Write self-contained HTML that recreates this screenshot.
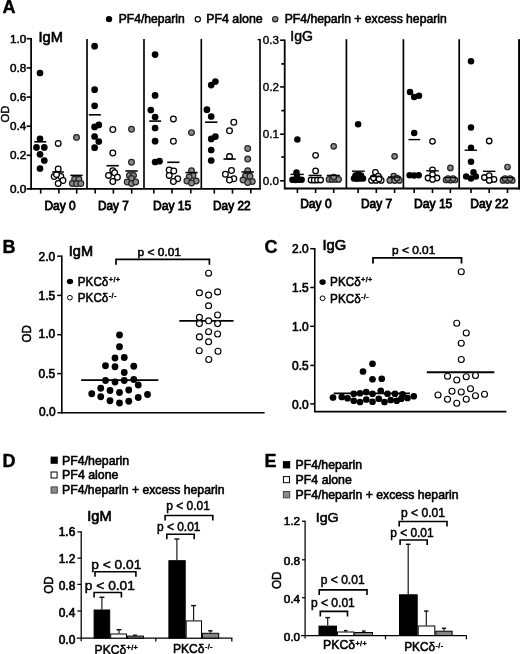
<!DOCTYPE html>
<html lang="en"><head><meta charset="utf-8"><title>Figure</title>
<style>
html,body{margin:0;padding:0;background:#fff;}
body{width:520px;height:654px;overflow:hidden;font-family:"Liberation Sans", Arial, Helvetica, sans-serif;}
svg{display:block;}
svg text{font-family:"Liberation Sans", Arial, Helvetica, sans-serif;fill:#000;}
</style></head><body>
<svg width="520" height="654" viewBox="0 0 520 654">
<defs><filter id="soft" x="0" y="0" width="520" height="654" filterUnits="userSpaceOnUse"><feGaussianBlur stdDeviation="0.38"/></filter></defs>
<rect width="520" height="654" fill="#fff"/>
<g filter="url(#soft)">
<text x="2.6" y="13.0" font-size="18" font-weight="bold" stroke="#000" stroke-width="0.39">A</text>
<circle cx="109" cy="19.1" r="3.2" fill="#000"/>
<text x="118.8" y="23.4" font-size="12" textLength="65.8" lengthAdjust="spacingAndGlyphs" stroke="#000" stroke-width="0.59">PF4/heparin</text>
<circle cx="197.8" cy="19.2" r="2.6" fill="#fff" stroke="#000" stroke-width="1.15"/>
<text x="206.2" y="23.4" font-size="12" textLength="56.5" lengthAdjust="spacingAndGlyphs" stroke="#000" stroke-width="0.59">PF4 alone</text>
<circle cx="275.2" cy="19.2" r="2.7" fill="#8a8a8a" stroke="#222" stroke-width="1.1"/>
<text x="284.7" y="23.4" font-size="12" textLength="162" lengthAdjust="spacingAndGlyphs" stroke="#000" stroke-width="0.59">PF4/heparin + excess heparin</text>
<line x1="31.1" y1="37.9" x2="31.1" y2="189.8" stroke="#000" stroke-width="1.75"/>
<line x1="26.5" y1="188.9" x2="260.9" y2="188.9" stroke="#000" stroke-width="1.85"/>
<line x1="87.0" y1="38.9" x2="87.0" y2="188.9" stroke="#000" stroke-width="1.65"/>
<line x1="144.0" y1="38.9" x2="144.0" y2="188.9" stroke="#000" stroke-width="1.65"/>
<line x1="201.3" y1="38.9" x2="201.3" y2="188.9" stroke="#000" stroke-width="1.65"/>
<line x1="260.0" y1="38.9" x2="260.0" y2="188.9" stroke="#000" stroke-width="1.65"/>
<line x1="26.6" y1="38.7" x2="31.1" y2="38.7" stroke="#000" stroke-width="1.6"/>
<text x="26.3" y="42.800000000000004" font-size="11.7" text-anchor="end" textLength="16.3" lengthAdjust="spacingAndGlyphs" stroke="#000" stroke-width="0.52">1.0</text>
<line x1="26.6" y1="67.9" x2="31.1" y2="67.9" stroke="#000" stroke-width="1.6"/>
<text x="26.3" y="72.0" font-size="11.7" text-anchor="end" textLength="16.3" lengthAdjust="spacingAndGlyphs" stroke="#000" stroke-width="0.52">0.8</text>
<line x1="26.6" y1="97.1" x2="31.1" y2="97.1" stroke="#000" stroke-width="1.6"/>
<text x="26.3" y="101.19999999999999" font-size="11.7" text-anchor="end" textLength="16.3" lengthAdjust="spacingAndGlyphs" stroke="#000" stroke-width="0.52">0.6</text>
<line x1="26.6" y1="126.2" x2="31.1" y2="126.2" stroke="#000" stroke-width="1.6"/>
<text x="26.3" y="130.3" font-size="11.7" text-anchor="end" textLength="16.3" lengthAdjust="spacingAndGlyphs" stroke="#000" stroke-width="0.52">0.4</text>
<line x1="26.6" y1="155.3" x2="31.1" y2="155.3" stroke="#000" stroke-width="1.6"/>
<text x="26.3" y="159.4" font-size="11.7" text-anchor="end" textLength="16.3" lengthAdjust="spacingAndGlyphs" stroke="#000" stroke-width="0.52">0.2</text>
<text x="26.3" y="193.3" font-size="11.7" text-anchor="end" textLength="16.4" lengthAdjust="spacingAndGlyphs" stroke="#000" stroke-width="0.52">0.0</text>
<line x1="257.6" y1="39.6" x2="260" y2="39.6" stroke="#000" stroke-width="1.4"/>
<line x1="40.7" y1="188.9" x2="40.7" y2="193.6" stroke="#000" stroke-width="1.6"/>
<line x1="58.9" y1="188.9" x2="58.9" y2="193.6" stroke="#000" stroke-width="1.6"/>
<line x1="76.7" y1="188.9" x2="76.7" y2="193.6" stroke="#000" stroke-width="1.6"/>
<line x1="95.2" y1="188.9" x2="95.2" y2="193.6" stroke="#000" stroke-width="1.6"/>
<line x1="113.4" y1="188.9" x2="113.4" y2="193.6" stroke="#000" stroke-width="1.6"/>
<line x1="131.7" y1="188.9" x2="131.7" y2="193.6" stroke="#000" stroke-width="1.6"/>
<line x1="153.8" y1="188.9" x2="153.8" y2="193.6" stroke="#000" stroke-width="1.6"/>
<line x1="172" y1="188.9" x2="172" y2="193.6" stroke="#000" stroke-width="1.6"/>
<line x1="190.8" y1="188.9" x2="190.8" y2="193.6" stroke="#000" stroke-width="1.6"/>
<line x1="214.3" y1="188.9" x2="214.3" y2="193.6" stroke="#000" stroke-width="1.6"/>
<line x1="232.5" y1="188.9" x2="232.5" y2="193.6" stroke="#000" stroke-width="1.6"/>
<line x1="250.8" y1="188.9" x2="250.8" y2="193.6" stroke="#000" stroke-width="1.6"/>
<text x="60.1" y="209.8" font-size="12" text-anchor="middle" textLength="31.2" lengthAdjust="spacingAndGlyphs" stroke="#000" stroke-width="0.78">Day 0</text>
<text x="113.4" y="209.8" font-size="12" text-anchor="middle" textLength="30.8" lengthAdjust="spacingAndGlyphs" stroke="#000" stroke-width="0.78">Day 7</text>
<text x="172.1" y="209.8" font-size="12" text-anchor="middle" textLength="38.2" lengthAdjust="spacingAndGlyphs" stroke="#000" stroke-width="0.78">Day 15</text>
<text x="231.8" y="209.8" font-size="12" text-anchor="middle" textLength="37.6" lengthAdjust="spacingAndGlyphs" stroke="#000" stroke-width="0.78">Day 22</text>
<text x="38.5" y="42.1" font-size="14" textLength="24.4" lengthAdjust="spacingAndGlyphs" stroke="#000" stroke-width="0.65">IgM</text>
<text transform="translate(9,114) rotate(-90)" font-size="11.6" text-anchor="middle" textLength="16.8" lengthAdjust="spacingAndGlyphs" stroke="#000" stroke-width="0.45">OD</text>
<circle cx="40" cy="73" r="3.35" fill="#000"/>
<circle cx="40" cy="138.8" r="3.35" fill="#000"/>
<circle cx="36.5" cy="147.4" r="3.35" fill="#000"/>
<circle cx="44.3" cy="147.4" r="3.35" fill="#000"/>
<circle cx="40" cy="154.3" r="3.35" fill="#000"/>
<circle cx="44.3" cy="160.5" r="3.35" fill="#000"/>
<circle cx="40" cy="168.5" r="3.35" fill="#000"/>
<line x1="34.3" y1="141.8" x2="46.2" y2="141.8" stroke="#000" stroke-width="1.6"/>
<circle cx="58.2" cy="143.4" r="2.85" fill="#fff" stroke="#000" stroke-width="1.28"/>
<circle cx="58.2" cy="168.9" r="2.85" fill="#fff" stroke="#000" stroke-width="1.28"/>
<circle cx="54.2" cy="176.5" r="2.85" fill="#fff" stroke="#000" stroke-width="1.28"/>
<circle cx="60.8" cy="176.5" r="2.85" fill="#fff" stroke="#000" stroke-width="1.28"/>
<circle cx="56.5" cy="174.5" r="2.85" fill="#fff" stroke="#000" stroke-width="1.28"/>
<circle cx="63" cy="180.5" r="2.85" fill="#fff" stroke="#000" stroke-width="1.28"/>
<circle cx="58.2" cy="183.5" r="2.85" fill="#fff" stroke="#000" stroke-width="1.28"/>
<line x1="52.3" y1="172" x2="63.8" y2="172" stroke="#000" stroke-width="1.6"/>
<circle cx="76.5" cy="137.4" r="2.85" fill="#8a8a8a" stroke="#222" stroke-width="1.2"/>
<circle cx="74.6" cy="179.2" r="2.85" fill="#8a8a8a" stroke="#222" stroke-width="1.2"/>
<circle cx="78.9" cy="179.2" r="2.85" fill="#8a8a8a" stroke="#222" stroke-width="1.2"/>
<circle cx="72.3" cy="183.5" r="2.85" fill="#8a8a8a" stroke="#222" stroke-width="1.2"/>
<circle cx="76.5" cy="183.8" r="2.85" fill="#8a8a8a" stroke="#222" stroke-width="1.2"/>
<circle cx="80.8" cy="183.5" r="2.85" fill="#8a8a8a" stroke="#222" stroke-width="1.2"/>
<line x1="70.3" y1="175.4" x2="82.6" y2="175.4" stroke="#000" stroke-width="1.6"/>
<circle cx="94.6" cy="46.2" r="3.35" fill="#000"/>
<circle cx="94.6" cy="89.7" r="3.35" fill="#000"/>
<circle cx="94.6" cy="105.8" r="3.35" fill="#000"/>
<circle cx="98.8" cy="124.9" r="3.35" fill="#000"/>
<circle cx="94.6" cy="126.9" r="3.35" fill="#000"/>
<circle cx="94.6" cy="136.5" r="3.35" fill="#000"/>
<circle cx="98.8" cy="141.5" r="3.35" fill="#000"/>
<circle cx="94.6" cy="147.7" r="3.35" fill="#000"/>
<line x1="88.8" y1="114.8" x2="100.8" y2="114.8" stroke="#000" stroke-width="1.6"/>
<circle cx="112.8" cy="129.5" r="2.85" fill="#fff" stroke="#000" stroke-width="1.28"/>
<circle cx="112.8" cy="153" r="2.85" fill="#fff" stroke="#000" stroke-width="1.28"/>
<circle cx="112.8" cy="170.8" r="2.85" fill="#fff" stroke="#000" stroke-width="1.28"/>
<circle cx="114.6" cy="172.8" r="2.85" fill="#fff" stroke="#000" stroke-width="1.28"/>
<circle cx="108.5" cy="175.4" r="2.85" fill="#fff" stroke="#000" stroke-width="1.28"/>
<circle cx="117.4" cy="177.2" r="2.85" fill="#fff" stroke="#000" stroke-width="1.28"/>
<circle cx="112.8" cy="181.5" r="2.85" fill="#fff" stroke="#000" stroke-width="1.28"/>
<line x1="106.5" y1="165.7" x2="118.8" y2="165.7" stroke="#000" stroke-width="1.6"/>
<circle cx="131.5" cy="129.2" r="2.85" fill="#8a8a8a" stroke="#222" stroke-width="1.2"/>
<circle cx="131.5" cy="162.3" r="2.85" fill="#8a8a8a" stroke="#222" stroke-width="1.2"/>
<circle cx="129.5" cy="175.4" r="2.85" fill="#8a8a8a" stroke="#222" stroke-width="1.2"/>
<circle cx="133.5" cy="175.4" r="2.85" fill="#8a8a8a" stroke="#222" stroke-width="1.2"/>
<circle cx="131.5" cy="178.5" r="2.85" fill="#8a8a8a" stroke="#222" stroke-width="1.2"/>
<circle cx="127.2" cy="182" r="2.85" fill="#8a8a8a" stroke="#222" stroke-width="1.2"/>
<circle cx="131.5" cy="183.5" r="2.85" fill="#8a8a8a" stroke="#222" stroke-width="1.2"/>
<circle cx="135.7" cy="182" r="2.85" fill="#8a8a8a" stroke="#222" stroke-width="1.2"/>
<line x1="125.4" y1="171" x2="137.7" y2="171" stroke="#000" stroke-width="1.6"/>
<circle cx="155.1" cy="54.6" r="3.35" fill="#000"/>
<circle cx="155.1" cy="95.4" r="3.35" fill="#000"/>
<circle cx="150.8" cy="110" r="3.35" fill="#000"/>
<circle cx="155.1" cy="117" r="3.35" fill="#000"/>
<circle cx="155.1" cy="128" r="3.35" fill="#000"/>
<circle cx="155.1" cy="141.2" r="3.35" fill="#000"/>
<circle cx="155.1" cy="162" r="3.35" fill="#000"/>
<circle cx="159.5" cy="161.2" r="3.35" fill="#000"/>
<line x1="149.2" y1="121.1" x2="161.1" y2="121.1" stroke="#000" stroke-width="1.6"/>
<circle cx="173.4" cy="118.9" r="2.85" fill="#fff" stroke="#000" stroke-width="1.28"/>
<circle cx="173.4" cy="141.2" r="2.85" fill="#fff" stroke="#000" stroke-width="1.28"/>
<circle cx="169.2" cy="170" r="2.85" fill="#fff" stroke="#000" stroke-width="1.28"/>
<circle cx="173.8" cy="171" r="2.85" fill="#fff" stroke="#000" stroke-width="1.28"/>
<circle cx="169.2" cy="175.4" r="2.85" fill="#fff" stroke="#000" stroke-width="1.28"/>
<circle cx="177.7" cy="178.8" r="2.85" fill="#fff" stroke="#000" stroke-width="1.28"/>
<circle cx="173.4" cy="181.5" r="2.85" fill="#fff" stroke="#000" stroke-width="1.28"/>
<line x1="167.2" y1="162.3" x2="179.5" y2="162.3" stroke="#000" stroke-width="1.6"/>
<circle cx="191.5" cy="132.6" r="2.85" fill="#8a8a8a" stroke="#222" stroke-width="1.2"/>
<circle cx="191.5" cy="170.8" r="2.85" fill="#8a8a8a" stroke="#222" stroke-width="1.2"/>
<circle cx="193" cy="175.4" r="2.85" fill="#8a8a8a" stroke="#222" stroke-width="1.2"/>
<circle cx="189.2" cy="177" r="2.85" fill="#8a8a8a" stroke="#222" stroke-width="1.2"/>
<circle cx="186.9" cy="181" r="2.85" fill="#8a8a8a" stroke="#222" stroke-width="1.2"/>
<circle cx="196.2" cy="181" r="2.85" fill="#8a8a8a" stroke="#222" stroke-width="1.2"/>
<circle cx="191.5" cy="183" r="2.85" fill="#8a8a8a" stroke="#222" stroke-width="1.2"/>
<line x1="185.4" y1="172.6" x2="197.7" y2="172.6" stroke="#000" stroke-width="1.6"/>
<circle cx="215.4" cy="81.5" r="3.35" fill="#000"/>
<circle cx="211.2" cy="85.1" r="3.35" fill="#000"/>
<circle cx="206.9" cy="109.7" r="3.35" fill="#000"/>
<circle cx="211.2" cy="116.5" r="3.35" fill="#000"/>
<circle cx="215.4" cy="136.6" r="3.35" fill="#000"/>
<circle cx="211.2" cy="138.9" r="3.35" fill="#000"/>
<circle cx="211.2" cy="150" r="3.35" fill="#000"/>
<circle cx="211.2" cy="160.5" r="3.35" fill="#000"/>
<line x1="205.1" y1="122.2" x2="217.4" y2="122.2" stroke="#000" stroke-width="1.6"/>
<circle cx="233.8" cy="122.3" r="2.85" fill="#fff" stroke="#000" stroke-width="1.28"/>
<circle cx="229.5" cy="130.8" r="2.85" fill="#fff" stroke="#000" stroke-width="1.28"/>
<circle cx="229.5" cy="156.6" r="2.85" fill="#fff" stroke="#000" stroke-width="1.28"/>
<circle cx="231.5" cy="170.5" r="2.85" fill="#fff" stroke="#000" stroke-width="1.28"/>
<circle cx="225.4" cy="174.3" r="2.85" fill="#fff" stroke="#000" stroke-width="1.28"/>
<circle cx="233.8" cy="178.8" r="2.85" fill="#fff" stroke="#000" stroke-width="1.28"/>
<circle cx="229.5" cy="180" r="2.85" fill="#fff" stroke="#000" stroke-width="1.28"/>
<line x1="223.5" y1="159" x2="235.7" y2="159" stroke="#000" stroke-width="1.6"/>
<circle cx="247.7" cy="148.5" r="2.85" fill="#8a8a8a" stroke="#222" stroke-width="1.2"/>
<circle cx="247.7" cy="159" r="2.85" fill="#8a8a8a" stroke="#222" stroke-width="1.2"/>
<circle cx="247.7" cy="170.8" r="2.85" fill="#8a8a8a" stroke="#222" stroke-width="1.2"/>
<circle cx="245.4" cy="176.2" r="2.85" fill="#8a8a8a" stroke="#222" stroke-width="1.2"/>
<circle cx="250" cy="176.2" r="2.85" fill="#8a8a8a" stroke="#222" stroke-width="1.2"/>
<circle cx="243" cy="180" r="2.85" fill="#8a8a8a" stroke="#222" stroke-width="1.2"/>
<circle cx="252.3" cy="181.5" r="2.85" fill="#8a8a8a" stroke="#222" stroke-width="1.2"/>
<circle cx="247.7" cy="182.6" r="2.85" fill="#8a8a8a" stroke="#222" stroke-width="1.2"/>
<line x1="241.5" y1="172" x2="253.8" y2="172" stroke="#000" stroke-width="1.6"/>
<line x1="284.7" y1="39.5" x2="284.7" y2="189.4" stroke="#000" stroke-width="1.8"/>
<line x1="284.7" y1="188.5" x2="520" y2="188.5" stroke="#000" stroke-width="1.85"/>
<line x1="346.4" y1="39.2" x2="346.4" y2="188.5" stroke="#000" stroke-width="1.7"/>
<line x1="403.4" y1="39.2" x2="403.4" y2="188.5" stroke="#000" stroke-width="1.7"/>
<line x1="459.2" y1="39.2" x2="459.2" y2="188.5" stroke="#000" stroke-width="1.7"/>
<line x1="519.3" y1="39.2" x2="519.3" y2="189.4" stroke="#000" stroke-width="2.4"/>
<line x1="280.09999999999997" y1="40.2" x2="284.7" y2="40.2" stroke="#000" stroke-width="1.6"/>
<text x="279" y="44.35" font-size="11.6" text-anchor="end" textLength="16.2" lengthAdjust="spacingAndGlyphs" stroke="#000" stroke-width="0.39">0.3</text>
<line x1="280.09999999999997" y1="86.9" x2="284.7" y2="86.9" stroke="#000" stroke-width="1.6"/>
<text x="279" y="91.05000000000001" font-size="11.6" text-anchor="end" textLength="16.2" lengthAdjust="spacingAndGlyphs" stroke="#000" stroke-width="0.39">0.2</text>
<line x1="280.09999999999997" y1="134.2" x2="284.7" y2="134.2" stroke="#000" stroke-width="1.6"/>
<text x="279" y="138.35" font-size="11.6" text-anchor="end" textLength="16.2" lengthAdjust="spacingAndGlyphs" stroke="#000" stroke-width="0.39">0.1</text>
<line x1="280.09999999999997" y1="180.8" x2="284.7" y2="180.8" stroke="#000" stroke-width="1.6"/>
<text x="279" y="184.95000000000002" font-size="11.6" text-anchor="end" textLength="16.2" lengthAdjust="spacingAndGlyphs" stroke="#000" stroke-width="0.39">0.0</text>
<line x1="281.3" y1="63.9" x2="284.7" y2="63.9" stroke="#000" stroke-width="1.7"/>
<line x1="281.3" y1="110.6" x2="284.7" y2="110.6" stroke="#000" stroke-width="1.7"/>
<line x1="281.3" y1="157" x2="284.7" y2="157" stroke="#000" stroke-width="1.7"/>
<line x1="297.4" y1="188.5" x2="297.4" y2="193" stroke="#000" stroke-width="1.6"/>
<line x1="315.6" y1="188.5" x2="315.6" y2="193" stroke="#000" stroke-width="1.6"/>
<line x1="333.7" y1="188.5" x2="333.7" y2="193" stroke="#000" stroke-width="1.6"/>
<line x1="358.1" y1="188.5" x2="358.1" y2="193" stroke="#000" stroke-width="1.6"/>
<line x1="376.3" y1="188.5" x2="376.3" y2="193" stroke="#000" stroke-width="1.6"/>
<line x1="394.6" y1="188.5" x2="394.6" y2="193" stroke="#000" stroke-width="1.6"/>
<line x1="414.2" y1="188.5" x2="414.2" y2="193" stroke="#000" stroke-width="1.6"/>
<line x1="432.5" y1="188.5" x2="432.5" y2="193" stroke="#000" stroke-width="1.6"/>
<line x1="450.4" y1="188.5" x2="450.4" y2="193" stroke="#000" stroke-width="1.6"/>
<line x1="471" y1="188.5" x2="471" y2="193" stroke="#000" stroke-width="1.6"/>
<line x1="489.2" y1="188.5" x2="489.2" y2="193" stroke="#000" stroke-width="1.6"/>
<line x1="507.5" y1="188.5" x2="507.5" y2="193" stroke="#000" stroke-width="1.6"/>
<text x="315.9" y="208.0" font-size="12.1" text-anchor="middle" textLength="31.4" lengthAdjust="spacingAndGlyphs" stroke="#000" stroke-width="0.78">Day 0</text>
<text x="376.6" y="208.0" font-size="12.1" text-anchor="middle" textLength="31.2" lengthAdjust="spacingAndGlyphs" stroke="#000" stroke-width="0.78">Day 7</text>
<text x="433.2" y="208.0" font-size="12.1" text-anchor="middle" textLength="38.3" lengthAdjust="spacingAndGlyphs" stroke="#000" stroke-width="0.78">Day 15</text>
<text x="489.4" y="208.0" font-size="12.1" text-anchor="middle" textLength="38.2" lengthAdjust="spacingAndGlyphs" stroke="#000" stroke-width="0.78">Day 22</text>
<text x="290.3" y="40.9" font-size="14" textLength="22.7" lengthAdjust="spacingAndGlyphs" stroke="#000" stroke-width="0.45">IgG</text>
<circle cx="297.4" cy="139.4" r="3.25" fill="#000"/>
<circle cx="296.5" cy="172.6" r="3.25" fill="#000"/>
<circle cx="292.4" cy="179.7" r="3.25" fill="#000"/>
<circle cx="295.5" cy="179.9" r="3.25" fill="#000"/>
<circle cx="298.6" cy="179.7" r="3.25" fill="#000"/>
<circle cx="301.6" cy="179.7" r="3.25" fill="#000"/>
<circle cx="297" cy="176.5" r="3.25" fill="#000"/>
<line x1="290.5" y1="174.4" x2="303.8" y2="174.4" stroke="#000" stroke-width="1.4"/>
<circle cx="315.6" cy="155.3" r="2.75" fill="#fff" stroke="#000" stroke-width="1.28"/>
<circle cx="315.6" cy="170.9" r="2.75" fill="#fff" stroke="#000" stroke-width="1.28"/>
<circle cx="311" cy="180" r="2.75" fill="#fff" stroke="#000" stroke-width="1.28"/>
<circle cx="314.2" cy="180.2" r="2.75" fill="#fff" stroke="#000" stroke-width="1.28"/>
<circle cx="317.4" cy="180" r="2.75" fill="#fff" stroke="#000" stroke-width="1.28"/>
<circle cx="320.6" cy="180" r="2.75" fill="#fff" stroke="#000" stroke-width="1.28"/>
<line x1="308.6" y1="175.4" x2="321.6" y2="175.4" stroke="#000" stroke-width="1.4"/>
<circle cx="333.7" cy="146.3" r="2.75" fill="#8a8a8a" stroke="#222" stroke-width="1.2"/>
<circle cx="329" cy="179.4" r="2.75" fill="#8a8a8a" stroke="#222" stroke-width="1.2"/>
<circle cx="332.2" cy="179.6" r="2.75" fill="#8a8a8a" stroke="#222" stroke-width="1.2"/>
<circle cx="335.4" cy="179.4" r="2.75" fill="#8a8a8a" stroke="#222" stroke-width="1.2"/>
<circle cx="338.6" cy="179.4" r="2.75" fill="#8a8a8a" stroke="#222" stroke-width="1.2"/>
<circle cx="333.7" cy="177" r="2.75" fill="#8a8a8a" stroke="#222" stroke-width="1.2"/>
<line x1="326.8" y1="175.4" x2="339.8" y2="175.4" stroke="#000" stroke-width="1.4"/>
<circle cx="358.1" cy="124.3" r="3.25" fill="#000"/>
<circle cx="358.1" cy="174.6" r="3.25" fill="#000"/>
<circle cx="354" cy="178.5" r="3.25" fill="#000"/>
<circle cx="357" cy="178.8" r="3.25" fill="#000"/>
<circle cx="360" cy="178.5" r="3.25" fill="#000"/>
<circle cx="363" cy="178.5" r="3.25" fill="#000"/>
<circle cx="361" cy="175.5" r="3.25" fill="#000"/>
<circle cx="355.5" cy="175.5" r="3.25" fill="#000"/>
<line x1="351.9" y1="171.2" x2="364.8" y2="171.2" stroke="#000" stroke-width="1.4"/>
<circle cx="375.4" cy="172.3" r="2.75" fill="#fff" stroke="#000" stroke-width="1.28"/>
<circle cx="378.3" cy="176.2" r="2.75" fill="#fff" stroke="#000" stroke-width="1.28"/>
<circle cx="371.5" cy="180.4" r="2.75" fill="#fff" stroke="#000" stroke-width="1.28"/>
<circle cx="376" cy="180.4" r="2.75" fill="#fff" stroke="#000" stroke-width="1.28"/>
<circle cx="381.2" cy="180.4" r="2.75" fill="#fff" stroke="#000" stroke-width="1.28"/>
<circle cx="373.5" cy="178" r="2.75" fill="#fff" stroke="#000" stroke-width="1.28"/>
<circle cx="379" cy="179" r="2.75" fill="#fff" stroke="#000" stroke-width="1.28"/>
<line x1="370" y1="176.5" x2="382.5" y2="176.5" stroke="#000" stroke-width="1.4"/>
<circle cx="394.6" cy="156.3" r="2.75" fill="#8a8a8a" stroke="#222" stroke-width="1.2"/>
<circle cx="393.7" cy="176.2" r="2.75" fill="#8a8a8a" stroke="#222" stroke-width="1.2"/>
<circle cx="389.8" cy="180.4" r="2.75" fill="#8a8a8a" stroke="#222" stroke-width="1.2"/>
<circle cx="394.6" cy="180.6" r="2.75" fill="#8a8a8a" stroke="#222" stroke-width="1.2"/>
<circle cx="399.4" cy="180.4" r="2.75" fill="#8a8a8a" stroke="#222" stroke-width="1.2"/>
<circle cx="397" cy="178" r="2.75" fill="#8a8a8a" stroke="#222" stroke-width="1.2"/>
<line x1="388" y1="177" x2="401" y2="177" stroke="#000" stroke-width="1.4"/>
<circle cx="410" cy="91.9" r="3.25" fill="#000"/>
<circle cx="414.2" cy="96.9" r="3.25" fill="#000"/>
<circle cx="419" cy="95.8" r="3.25" fill="#000"/>
<circle cx="414.2" cy="132.9" r="3.25" fill="#000"/>
<circle cx="409.6" cy="175.2" r="3.25" fill="#000"/>
<circle cx="414.2" cy="175.4" r="3.25" fill="#000"/>
<circle cx="418.7" cy="175.2" r="3.25" fill="#000"/>
<line x1="408.5" y1="139.6" x2="420.2" y2="139.6" stroke="#000" stroke-width="1.4"/>
<circle cx="432.5" cy="141.3" r="2.75" fill="#fff" stroke="#000" stroke-width="1.28"/>
<circle cx="432.5" cy="169.8" r="2.75" fill="#fff" stroke="#000" stroke-width="1.28"/>
<circle cx="432.5" cy="174.6" r="2.75" fill="#fff" stroke="#000" stroke-width="1.28"/>
<circle cx="428" cy="178" r="2.75" fill="#fff" stroke="#000" stroke-width="1.28"/>
<circle cx="437" cy="178" r="2.75" fill="#fff" stroke="#000" stroke-width="1.28"/>
<circle cx="432.5" cy="179.4" r="2.75" fill="#fff" stroke="#000" stroke-width="1.28"/>
<line x1="426.2" y1="170.8" x2="438.8" y2="170.8" stroke="#000" stroke-width="1.4"/>
<circle cx="450.4" cy="167.9" r="2.75" fill="#8a8a8a" stroke="#222" stroke-width="1.2"/>
<circle cx="446" cy="180" r="2.75" fill="#8a8a8a" stroke="#222" stroke-width="1.2"/>
<circle cx="450.4" cy="180.2" r="2.75" fill="#8a8a8a" stroke="#222" stroke-width="1.2"/>
<circle cx="455" cy="180" r="2.75" fill="#8a8a8a" stroke="#222" stroke-width="1.2"/>
<circle cx="448" cy="178.5" r="2.75" fill="#8a8a8a" stroke="#222" stroke-width="1.2"/>
<circle cx="453" cy="178.5" r="2.75" fill="#8a8a8a" stroke="#222" stroke-width="1.2"/>
<line x1="444" y1="177.5" x2="456.5" y2="177.5" stroke="#000" stroke-width="1.4"/>
<circle cx="471" cy="61.2" r="3.25" fill="#000"/>
<circle cx="471" cy="127.5" r="3.25" fill="#000"/>
<circle cx="471" cy="147.7" r="3.25" fill="#000"/>
<circle cx="471" cy="161.7" r="3.25" fill="#000"/>
<circle cx="473.5" cy="172.3" r="3.25" fill="#000"/>
<circle cx="466.2" cy="176.5" r="3.25" fill="#000"/>
<circle cx="475.8" cy="176.5" r="3.25" fill="#000"/>
<circle cx="471" cy="178.5" r="3.25" fill="#000"/>
<line x1="464.6" y1="150.2" x2="477.1" y2="150.2" stroke="#000" stroke-width="1.4"/>
<circle cx="489.2" cy="141" r="2.75" fill="#fff" stroke="#000" stroke-width="1.28"/>
<circle cx="484.4" cy="177.5" r="2.75" fill="#fff" stroke="#000" stroke-width="1.28"/>
<circle cx="489.2" cy="175.6" r="2.75" fill="#fff" stroke="#000" stroke-width="1.28"/>
<circle cx="494" cy="179.4" r="2.75" fill="#fff" stroke="#000" stroke-width="1.28"/>
<circle cx="489.2" cy="180.4" r="2.75" fill="#fff" stroke="#000" stroke-width="1.28"/>
<line x1="483" y1="171.3" x2="495.4" y2="171.3" stroke="#000" stroke-width="1.4"/>
<circle cx="507.5" cy="167.0" r="2.75" fill="#8a8a8a" stroke="#222" stroke-width="1.2"/>
<circle cx="503" cy="180.4" r="2.75" fill="#8a8a8a" stroke="#222" stroke-width="1.2"/>
<circle cx="507.5" cy="180.6" r="2.75" fill="#8a8a8a" stroke="#222" stroke-width="1.2"/>
<circle cx="512.3" cy="180.4" r="2.75" fill="#8a8a8a" stroke="#222" stroke-width="1.2"/>
<circle cx="505" cy="178.5" r="2.75" fill="#8a8a8a" stroke="#222" stroke-width="1.2"/>
<circle cx="510" cy="178.5" r="2.75" fill="#8a8a8a" stroke="#222" stroke-width="1.2"/>
<line x1="500.8" y1="177.5" x2="514.2" y2="177.5" stroke="#000" stroke-width="1.4"/>
<text x="2.45" y="252.5" font-size="18" font-weight="bold" stroke="#000" stroke-width="0.39">B</text>
<line x1="61.8" y1="255.4" x2="61.8" y2="413.5" stroke="#000" stroke-width="1.6"/>
<line x1="57.4" y1="412.8" x2="264.6" y2="412.8" stroke="#000" stroke-width="1.6"/>
<line x1="57.199999999999996" y1="256.15" x2="61.8" y2="256.15" stroke="#000" stroke-width="1.5"/>
<text x="55.2" y="261.0" font-size="11.9" text-anchor="end" textLength="16.6" lengthAdjust="spacingAndGlyphs" stroke="#000" stroke-width="0.65">2.0</text>
<line x1="57.199999999999996" y1="295.4" x2="61.8" y2="295.4" stroke="#000" stroke-width="1.5"/>
<text x="55.2" y="299.7" font-size="11.9" text-anchor="end" textLength="16.6" lengthAdjust="spacingAndGlyphs" stroke="#000" stroke-width="0.65">1.5</text>
<line x1="57.199999999999996" y1="334.7" x2="61.8" y2="334.7" stroke="#000" stroke-width="1.5"/>
<text x="55.2" y="338.2" font-size="11.9" text-anchor="end" textLength="16.6" lengthAdjust="spacingAndGlyphs" stroke="#000" stroke-width="0.65">1.0</text>
<line x1="57.199999999999996" y1="373.6" x2="61.8" y2="373.6" stroke="#000" stroke-width="1.5"/>
<text x="55.2" y="378.1" font-size="11.9" text-anchor="end" textLength="16.6" lengthAdjust="spacingAndGlyphs" stroke="#000" stroke-width="0.65">0.5</text>
<text x="55.6" y="416.4" font-size="11.9" text-anchor="end" textLength="16.6" lengthAdjust="spacingAndGlyphs" stroke="#000" stroke-width="0.65">0.0</text>
<text x="68.8" y="256.1" font-size="14" textLength="24.2" lengthAdjust="spacingAndGlyphs" stroke="#000" stroke-width="0.65">IgM</text>
<text transform="translate(31.1,333.8) rotate(-90)" font-size="12" text-anchor="middle" textLength="17.3" lengthAdjust="spacingAndGlyphs" stroke="#000" stroke-width="0.5">OD</text>
<ellipse cx="70" cy="281.6" rx="3.15" ry="2.75" fill="#000"/>
<text x="77.8" y="285.6" font-size="12" textLength="30.6" lengthAdjust="spacingAndGlyphs" stroke="#000" stroke-width="0.55">PKCδ</text>
<text x="108.8" y="281.7" font-size="7.3" font-weight="bold" letter-spacing="0.35" stroke="#000" stroke-width="0.3">+/+</text>
<ellipse cx="69.9" cy="297.7" rx="2.4" ry="2.3" fill="#fff" stroke="#000" stroke-width="1.0"/>
<text x="77.8" y="301.7" font-size="12" textLength="30.6" lengthAdjust="spacingAndGlyphs" stroke="#000" stroke-width="0.55">PKCδ</text>
<text x="108.8" y="297.8" font-size="7.3" font-weight="bold" letter-spacing="0.35" stroke="#000" stroke-width="0.3">-/-</text>
<polyline points="116,264.7 116,259.4 209.4,259.4 209.4,264.7" fill="none" stroke="#000" stroke-width="1.7"/>
<text x="159.2" y="255.9" font-size="11.8" text-anchor="middle" textLength="43.4" lengthAdjust="spacingAndGlyphs" stroke="#000" stroke-width="0.55">p &lt; 0.01</text>
<circle cx="119.5" cy="335" r="3.4" fill="#000"/>
<circle cx="119.5" cy="346.75" r="3.4" fill="#000"/>
<circle cx="115" cy="358" r="3.4" fill="#000"/>
<circle cx="124.25" cy="357.5" r="3.4" fill="#000"/>
<circle cx="105.5" cy="365.75" r="3.4" fill="#000"/>
<circle cx="115" cy="366.75" r="3.4" fill="#000"/>
<circle cx="133.75" cy="366.25" r="3.4" fill="#000"/>
<circle cx="124.25" cy="372.5" r="3.4" fill="#000"/>
<circle cx="105.5" cy="380.5" r="3.4" fill="#000"/>
<circle cx="115" cy="382" r="3.4" fill="#000"/>
<circle cx="124.25" cy="380.5" r="3.4" fill="#000"/>
<circle cx="133.75" cy="379.5" r="3.4" fill="#000"/>
<circle cx="138.25" cy="385" r="3.4" fill="#000"/>
<circle cx="100.75" cy="388.25" r="3.4" fill="#000"/>
<circle cx="110" cy="390.5" r="3.4" fill="#000"/>
<circle cx="119.5" cy="392.5" r="3.4" fill="#000"/>
<circle cx="128.75" cy="390" r="3.4" fill="#000"/>
<circle cx="91.75" cy="393.75" r="3.4" fill="#000"/>
<circle cx="147.5" cy="394.5" r="3.4" fill="#000"/>
<circle cx="100.75" cy="396.75" r="3.4" fill="#000"/>
<circle cx="138.25" cy="397.5" r="3.4" fill="#000"/>
<circle cx="110" cy="400.75" r="3.4" fill="#000"/>
<circle cx="119.5" cy="403" r="3.4" fill="#000"/>
<circle cx="128.75" cy="401.25" r="3.4" fill="#000"/>
<line x1="81.2" y1="380.1" x2="158.3" y2="380.1" stroke="#000" stroke-width="1.8"/>
<line x1="179.3" y1="320.9" x2="233.6" y2="320.9" stroke="#000" stroke-width="1.8"/>
<circle cx="208.6" cy="273.2" r="2.98" fill="#fff" stroke="#000" stroke-width="1.15"/>
<circle cx="199.4" cy="292.8" r="2.98" fill="#fff" stroke="#000" stroke-width="1.15"/>
<circle cx="208.6" cy="295.1" r="2.98" fill="#fff" stroke="#000" stroke-width="1.15"/>
<circle cx="217.6" cy="291.9" r="2.98" fill="#fff" stroke="#000" stroke-width="1.15"/>
<circle cx="208.6" cy="305.8" r="2.98" fill="#fff" stroke="#000" stroke-width="1.15"/>
<circle cx="199.4" cy="317.3" r="2.98" fill="#fff" stroke="#000" stroke-width="1.15"/>
<circle cx="217.6" cy="315" r="2.98" fill="#fff" stroke="#000" stroke-width="1.15"/>
<circle cx="199.4" cy="323.6" r="2.98" fill="#fff" stroke="#000" stroke-width="1.15"/>
<circle cx="208.6" cy="320.8" r="2.98" fill="#fff" stroke="#000" stroke-width="1.15"/>
<circle cx="217.6" cy="323.6" r="2.98" fill="#fff" stroke="#000" stroke-width="1.15"/>
<circle cx="208.6" cy="331.7" r="2.98" fill="#fff" stroke="#000" stroke-width="1.15"/>
<circle cx="217.6" cy="334" r="2.98" fill="#fff" stroke="#000" stroke-width="1.15"/>
<circle cx="199.4" cy="336.9" r="2.98" fill="#fff" stroke="#000" stroke-width="1.15"/>
<circle cx="208.6" cy="341.8" r="2.98" fill="#fff" stroke="#000" stroke-width="1.15"/>
<circle cx="199.25" cy="350.75" r="2.98" fill="#fff" stroke="#000" stroke-width="1.15"/>
<circle cx="218" cy="351.25" r="2.98" fill="#fff" stroke="#000" stroke-width="1.15"/>
<circle cx="208.75" cy="359.5" r="2.98" fill="#fff" stroke="#000" stroke-width="1.15"/>
<text x="264.4" y="252.8" font-size="18" font-weight="bold" stroke="#000" stroke-width="0.39">C</text>
<line x1="314.75" y1="248.0" x2="314.75" y2="412.3" stroke="#000" stroke-width="1.6"/>
<line x1="314.75" y1="411.6" x2="506.4" y2="411.6" stroke="#000" stroke-width="1.6"/>
<line x1="310.25" y1="248.7" x2="314.75" y2="248.7" stroke="#000" stroke-width="1.5"/>
<text x="308.6" y="253.45000000000002" font-size="11.9" text-anchor="end" textLength="16.6" lengthAdjust="spacingAndGlyphs" stroke="#000" stroke-width="0.65">2.0</text>
<line x1="310.25" y1="287.5" x2="314.75" y2="287.5" stroke="#000" stroke-width="1.5"/>
<text x="308.6" y="292.0" font-size="11.9" text-anchor="end" textLength="16.6" lengthAdjust="spacingAndGlyphs" stroke="#000" stroke-width="0.65">1.5</text>
<line x1="310.25" y1="326.3" x2="314.75" y2="326.3" stroke="#000" stroke-width="1.5"/>
<text x="308.6" y="330.6" font-size="11.9" text-anchor="end" textLength="16.6" lengthAdjust="spacingAndGlyphs" stroke="#000" stroke-width="0.65">1.0</text>
<line x1="310.25" y1="365.4" x2="314.75" y2="365.4" stroke="#000" stroke-width="1.5"/>
<text x="308.6" y="369.85" font-size="11.9" text-anchor="end" textLength="16.6" lengthAdjust="spacingAndGlyphs" stroke="#000" stroke-width="0.65">0.5</text>
<line x1="310.25" y1="403.9" x2="314.75" y2="403.9" stroke="#000" stroke-width="1.5"/>
<text x="308.6" y="408.5" font-size="11.9" text-anchor="end" textLength="16.6" lengthAdjust="spacingAndGlyphs" stroke="#000" stroke-width="0.65">0.0</text>
<text x="322.5" y="250.4" font-size="14" textLength="23.8" lengthAdjust="spacingAndGlyphs" stroke="#000" stroke-width="0.65">IgG</text>
<ellipse cx="322.6" cy="282.1" rx="3.2" ry="2.8" fill="#000"/>
<text x="330.1" y="286.2" font-size="12" textLength="30.6" lengthAdjust="spacingAndGlyphs" stroke="#000" stroke-width="0.55">PKCδ</text>
<text x="361.1" y="282.3" font-size="7.3" font-weight="bold" letter-spacing="0.35" stroke="#000" stroke-width="0.3">+/+</text>
<ellipse cx="322.6" cy="298.3" rx="2.45" ry="2.35" fill="#fff" stroke="#000" stroke-width="1.0"/>
<text x="330.1" y="302.5" font-size="12" textLength="30.6" lengthAdjust="spacingAndGlyphs" stroke="#000" stroke-width="0.55">PKCδ</text>
<text x="361.1" y="298.6" font-size="7.3" font-weight="bold" letter-spacing="0.35" stroke="#000" stroke-width="0.3">-/-</text>
<polyline points="373.0,263.6 373.0,257.8 461.5,257.8 461.5,263.6" fill="none" stroke="#000" stroke-width="1.8"/>
<text x="413.7" y="253.9" font-size="11.8" text-anchor="middle" textLength="43.2" lengthAdjust="spacingAndGlyphs" stroke="#000" stroke-width="0.55">p &lt; 0.01</text>
<line x1="333.7" y1="393.3" x2="410" y2="393.3" stroke="#000" stroke-width="1.7"/>
<circle cx="372.5" cy="363.75" r="3.35" fill="#000"/>
<circle cx="363" cy="371.5" r="3.35" fill="#000"/>
<circle cx="372.5" cy="379.25" r="3.35" fill="#000"/>
<circle cx="381.75" cy="378.75" r="3.35" fill="#000"/>
<circle cx="380.75" cy="390.75" r="3.35" fill="#000"/>
<circle cx="366.25" cy="392" r="3.35" fill="#000"/>
<circle cx="360" cy="393.25" r="3.35" fill="#000"/>
<circle cx="353.75" cy="393.75" r="3.35" fill="#000"/>
<circle cx="372.5" cy="393.75" r="3.35" fill="#000"/>
<circle cx="387.5" cy="393.75" r="3.35" fill="#000"/>
<circle cx="395" cy="393.75" r="3.35" fill="#000"/>
<circle cx="402.5" cy="394.25" r="3.35" fill="#000"/>
<circle cx="333" cy="397.5" r="3.35" fill="#000"/>
<circle cx="341.75" cy="397" r="3.35" fill="#000"/>
<circle cx="347.5" cy="398.25" r="3.35" fill="#000"/>
<circle cx="353.75" cy="400.75" r="3.35" fill="#000"/>
<circle cx="360" cy="402" r="3.35" fill="#000"/>
<circle cx="366.25" cy="399.5" r="3.35" fill="#000"/>
<circle cx="372.5" cy="401.75" r="3.35" fill="#000"/>
<circle cx="378.75" cy="398.75" r="3.35" fill="#000"/>
<circle cx="384.5" cy="402" r="3.35" fill="#000"/>
<circle cx="390.75" cy="400" r="3.35" fill="#000"/>
<circle cx="396.75" cy="400.75" r="3.35" fill="#000"/>
<circle cx="401.25" cy="398.75" r="3.35" fill="#000"/>
<circle cx="407.5" cy="398" r="3.35" fill="#000"/>
<circle cx="413.75" cy="396.25" r="3.35" fill="#000"/>
<line x1="426.8" y1="372.2" x2="494.3" y2="372.2" stroke="#000" stroke-width="1.9"/>
<circle cx="461.25" cy="271.75" r="2.98" fill="#fff" stroke="#000" stroke-width="1.15"/>
<circle cx="456.75" cy="323.25" r="2.98" fill="#fff" stroke="#000" stroke-width="1.15"/>
<circle cx="466.25" cy="333" r="2.98" fill="#fff" stroke="#000" stroke-width="1.15"/>
<circle cx="461.25" cy="343.25" r="2.98" fill="#fff" stroke="#000" stroke-width="1.15"/>
<circle cx="461.25" cy="359.5" r="2.98" fill="#fff" stroke="#000" stroke-width="1.15"/>
<circle cx="447.5" cy="376.25" r="2.98" fill="#fff" stroke="#000" stroke-width="1.15"/>
<circle cx="466.25" cy="376.75" r="2.98" fill="#fff" stroke="#000" stroke-width="1.15"/>
<circle cx="475.5" cy="375.5" r="2.98" fill="#fff" stroke="#000" stroke-width="1.15"/>
<circle cx="456.75" cy="380" r="2.98" fill="#fff" stroke="#000" stroke-width="1.15"/>
<circle cx="470.5" cy="388.75" r="2.98" fill="#fff" stroke="#000" stroke-width="1.15"/>
<circle cx="452" cy="391.25" r="2.98" fill="#fff" stroke="#000" stroke-width="1.15"/>
<circle cx="461.25" cy="392" r="2.98" fill="#fff" stroke="#000" stroke-width="1.15"/>
<circle cx="438" cy="395" r="2.98" fill="#fff" stroke="#000" stroke-width="1.15"/>
<circle cx="484.5" cy="394.25" r="2.98" fill="#fff" stroke="#000" stroke-width="1.15"/>
<circle cx="475.5" cy="395.75" r="2.98" fill="#fff" stroke="#000" stroke-width="1.15"/>
<circle cx="447.5" cy="399.25" r="2.98" fill="#fff" stroke="#000" stroke-width="1.15"/>
<circle cx="466.25" cy="399.25" r="2.98" fill="#fff" stroke="#000" stroke-width="1.15"/>
<circle cx="456.75" cy="403.25" r="2.98" fill="#fff" stroke="#000" stroke-width="1.15"/>
<text x="2.45" y="466.9" font-size="18" font-weight="bold" stroke="#000" stroke-width="0.39">D</text>
<rect x="50.6" y="456.6" width="7.2" height="7.2" fill="#000"/>
<text x="62.1" y="464.7" font-size="12.2" textLength="67.1" lengthAdjust="spacingAndGlyphs" stroke="#000" stroke-width="0.59">PF4/heparin</text>
<rect x="51.1" y="472.0" width="6.0" height="6.0" fill="#fff" stroke="#000" stroke-width="1"/>
<text x="62.1" y="479.4" font-size="12.2" textLength="56.4" lengthAdjust="spacingAndGlyphs" stroke="#000" stroke-width="0.59">PF4 alone</text>
<rect x="51.1" y="486.9" width="6.2" height="6.2" fill="#8c8c8c" stroke="#444" stroke-width="1"/>
<text x="62.1" y="494.3" font-size="12.2" textLength="162.4" lengthAdjust="spacingAndGlyphs" stroke="#000" stroke-width="0.59">PF4/heparin + excess heparin</text>
<text x="87.3" y="520.7" font-size="14" textLength="24.3" lengthAdjust="spacingAndGlyphs" stroke="#000" stroke-width="0.65">IgM</text>
<line x1="81.2" y1="531.3" x2="81.2" y2="641.3" stroke="#000" stroke-width="1.25"/>
<line x1="76.7" y1="638.1" x2="232.3" y2="638.1" stroke="#000" stroke-width="1.25"/>
<line x1="77.4" y1="531.9" x2="81.2" y2="531.9" stroke="#000" stroke-width="1.25"/>
<line x1="77.4" y1="558.1" x2="81.2" y2="558.1" stroke="#000" stroke-width="1.25"/>
<line x1="77.4" y1="584.4" x2="81.2" y2="584.4" stroke="#000" stroke-width="1.25"/>
<line x1="77.4" y1="611" x2="81.2" y2="611" stroke="#000" stroke-width="1.25"/>
<text x="75.3" y="536.15" font-size="11.9" text-anchor="end" textLength="16.6" lengthAdjust="spacingAndGlyphs" stroke="#000" stroke-width="0.65">1.6</text>
<text x="75.3" y="563.05" font-size="11.9" text-anchor="end" textLength="16.6" lengthAdjust="spacingAndGlyphs" stroke="#000" stroke-width="0.65">1.2</text>
<text x="75.3" y="589.65" font-size="11.9" text-anchor="end" textLength="16.6" lengthAdjust="spacingAndGlyphs" stroke="#000" stroke-width="0.65">0.8</text>
<text x="75.3" y="616.65" font-size="11.9" text-anchor="end" textLength="16.6" lengthAdjust="spacingAndGlyphs" stroke="#000" stroke-width="0.65">0.4</text>
<text x="75.3" y="643.55" font-size="11.9" text-anchor="end" textLength="16.6" lengthAdjust="spacingAndGlyphs" stroke="#000" stroke-width="0.65">0.0</text>
<line x1="155.8" y1="638.1" x2="155.8" y2="641.4" stroke="#000" stroke-width="1.25"/>
<line x1="231.8" y1="638.1" x2="231.8" y2="641.4" stroke="#000" stroke-width="1.25"/>
<text transform="translate(53,585) rotate(-90)" font-size="12" text-anchor="middle" textLength="17.3" lengthAdjust="spacingAndGlyphs" stroke="#000" stroke-width="0.5">OD</text>
<line x1="101.9" y1="597" x2="101.9" y2="609.5" stroke="#111" stroke-width="1.15"/>
<line x1="99.4" y1="597.3" x2="104.4" y2="597.3" stroke="#111" stroke-width="1.4"/>
<rect x="94.10" y="610.00" width="15.60" height="28.10" fill="#000" stroke="#000" stroke-width="1"/>
<line x1="119" y1="629.4" x2="119" y2="633.5" stroke="#111" stroke-width="1.15"/>
<line x1="116.6" y1="629.6999999999999" x2="121.4" y2="629.6999999999999" stroke="#111" stroke-width="1.4"/>
<rect x="110.70" y="634.00" width="15.80" height="4.10" fill="#fff" stroke="#000" stroke-width="1"/>
<line x1="135" y1="634.9" x2="135" y2="635.6" stroke="#111" stroke-width="1.15"/>
<line x1="133.0" y1="635.1999999999999" x2="137.0" y2="635.1999999999999" stroke="#111" stroke-width="1.4"/>
<rect x="127.50" y="636.10" width="15.90" height="2.00" fill="#858585" stroke="#000" stroke-width="1"/>
<line x1="176.9" y1="538.7" x2="176.9" y2="560.2" stroke="#111" stroke-width="1.15"/>
<line x1="174.4" y1="539.0" x2="179.4" y2="539.0" stroke="#111" stroke-width="1.4"/>
<rect x="168.90" y="560.70" width="16.30" height="77.40" fill="#000" stroke="#000" stroke-width="1"/>
<line x1="193.6" y1="605.3" x2="193.6" y2="620.4" stroke="#111" stroke-width="1.15"/>
<line x1="191.1" y1="605.5999999999999" x2="196.1" y2="605.5999999999999" stroke="#111" stroke-width="1.4"/>
<rect x="186.20" y="620.90" width="15.30" height="17.20" fill="#fff" stroke="#000" stroke-width="1"/>
<line x1="210.4" y1="630.5" x2="210.4" y2="632.8" stroke="#111" stroke-width="1.15"/>
<line x1="208.20000000000002" y1="630.8" x2="212.6" y2="630.8" stroke="#111" stroke-width="1.4"/>
<rect x="202.50" y="633.30" width="16.20" height="4.80" fill="#858585" stroke="#000" stroke-width="1"/>
<polyline points="95.0,576.8 95.0,571.8 135.9,571.8 135.9,576.8" fill="none" stroke="#000" stroke-width="1.6"/>
<text x="91.318" y="569.1" font-size="13.699000000000002" textLength="50.03" lengthAdjust="spacingAndGlyphs" stroke="#000" stroke-width="0.49">p &lt; 0.01</text>
<polyline points="94.1,597.5 94.1,592.5 121.4,592.5 121.4,597.5" fill="none" stroke="#000" stroke-width="1.6"/>
<text x="84.86800000000001" y="589.7" font-size="13.699000000000002" textLength="50.03" lengthAdjust="spacingAndGlyphs" stroke="#000" stroke-width="0.49">p &lt; 0.01</text>
<polyline points="165.1,520.5 165.1,515.5 212.8,515.5 212.8,520.5" fill="none" stroke="#000" stroke-width="1.6"/>
<text x="166.33200000000002" y="510.1" font-size="12.051" textLength="43.57" lengthAdjust="spacingAndGlyphs" stroke="#000" stroke-width="0.49">p &lt; 0.01</text>
<polyline points="166.8,539.2 166.8,534.2 194.2,534.2 194.2,539.2" fill="none" stroke="#000" stroke-width="1.6"/>
<text x="156.93200000000002" y="531.0" font-size="12.051" textLength="43.57" lengthAdjust="spacingAndGlyphs" stroke="#000" stroke-width="0.49">p &lt; 0.01</text>
<text x="94.6" y="653.7" font-size="13.2" textLength="31.6" lengthAdjust="spacingAndGlyphs" stroke="#000" stroke-width="0.55">PKCδ</text>
<text x="126.6" y="649.5" font-size="7.3" font-weight="bold" letter-spacing="0.35" stroke="#000" stroke-width="0.3">+/+</text>
<text x="172.9" y="653.2" font-size="13.2" textLength="31.6" lengthAdjust="spacingAndGlyphs" stroke="#000" stroke-width="0.55">PKCδ</text>
<text x="204.9" y="649.0" font-size="7.3" font-weight="bold" letter-spacing="0.35" stroke="#000" stroke-width="0.3">-/-</text>
<text x="264.5" y="466.9" font-size="18" font-weight="bold" stroke="#000" stroke-width="0.39">E</text>
<rect x="282.9" y="461.1" width="7.3" height="7.3" fill="#000"/>
<text x="295.6" y="469.35" font-size="12.2" textLength="66.5" lengthAdjust="spacingAndGlyphs" stroke="#000" stroke-width="0.59">PF4/heparin</text>
<rect x="283.4" y="476.6" width="6.1" height="6.1" fill="#fff" stroke="#000" stroke-width="1"/>
<text x="295.6" y="484.05" font-size="12.2" textLength="56.2" lengthAdjust="spacingAndGlyphs" stroke="#000" stroke-width="0.59">PF4 alone</text>
<rect x="283.4" y="491.5" width="6.3" height="6.3" fill="#8c8c8c" stroke="#444" stroke-width="1"/>
<text x="295.6" y="498.9" font-size="12.2" textLength="163" lengthAdjust="spacingAndGlyphs" stroke="#000" stroke-width="0.59">PF4/heparin + excess heparin</text>
<text x="315.7" y="522.2" font-size="13.6" textLength="23" lengthAdjust="spacingAndGlyphs" stroke="#000" stroke-width="0.59">IgG</text>
<line x1="305.1" y1="520.7" x2="305.1" y2="638.6" stroke="#000" stroke-width="1.25"/>
<line x1="301.0" y1="635.5" x2="466.8" y2="635.5" stroke="#000" stroke-width="1.25"/>
<line x1="302.0" y1="521.2" x2="305.1" y2="521.2" stroke="#000" stroke-width="1.25"/>
<text x="300.1" y="525.1" font-size="11.7" text-anchor="end" textLength="16.4" lengthAdjust="spacingAndGlyphs" stroke="#000" stroke-width="0.59">1.2</text>
<line x1="302.0" y1="559.8" x2="305.1" y2="559.8" stroke="#000" stroke-width="1.25"/>
<text x="300.1" y="564.9000000000001" font-size="11.7" text-anchor="end" textLength="16.4" lengthAdjust="spacingAndGlyphs" stroke="#000" stroke-width="0.59">0.8</text>
<line x1="302.0" y1="597.7" x2="305.1" y2="597.7" stroke="#000" stroke-width="1.25"/>
<text x="300.1" y="602.9000000000001" font-size="11.7" text-anchor="end" textLength="16.4" lengthAdjust="spacingAndGlyphs" stroke="#000" stroke-width="0.59">0.4</text>
<text x="300.1" y="641.2" font-size="11.7" text-anchor="end" textLength="16.4" lengthAdjust="spacingAndGlyphs" stroke="#000" stroke-width="0.59">0.0</text>
<line x1="385.5" y1="635.5" x2="385.5" y2="639.3" stroke="#000" stroke-width="1.25"/>
<line x1="466.4" y1="635.5" x2="466.4" y2="639.3" stroke="#000" stroke-width="1.25"/>
<text transform="translate(281.3,580.2) rotate(-90)" font-size="12" text-anchor="middle" textLength="17.5" lengthAdjust="spacingAndGlyphs" stroke="#000" stroke-width="0.5">OD</text>
<line x1="327.7" y1="617.3" x2="327.7" y2="625.6" stroke="#111" stroke-width="1.15"/>
<line x1="325.3" y1="617.5999999999999" x2="330.09999999999997" y2="617.5999999999999" stroke="#111" stroke-width="1.4"/>
<rect x="319.00" y="626.10" width="17.50" height="9.40" fill="#000" stroke="#000" stroke-width="1"/>
<line x1="345.7" y1="630.3" x2="345.7" y2="631.5" stroke="#111" stroke-width="1.15"/>
<line x1="343.9" y1="630.5999999999999" x2="347.5" y2="630.5999999999999" stroke="#111" stroke-width="1.4"/>
<rect x="337.50" y="632.00" width="16.30" height="3.50" fill="#fff" stroke="#000" stroke-width="1"/>
<line x1="363.8" y1="630.8" x2="363.8" y2="632" stroke="#111" stroke-width="1.15"/>
<line x1="362.0" y1="631.0999999999999" x2="365.6" y2="631.0999999999999" stroke="#111" stroke-width="1.4"/>
<rect x="354.80" y="632.50" width="17.70" height="3.00" fill="#858585" stroke="#000" stroke-width="1"/>
<line x1="408.2" y1="544" x2="408.2" y2="594.3" stroke="#111" stroke-width="1.15"/>
<line x1="405.9" y1="544.3" x2="410.5" y2="544.3" stroke="#111" stroke-width="1.4"/>
<rect x="399.50" y="594.80" width="17.70" height="40.70" fill="#000" stroke="#000" stroke-width="1"/>
<line x1="426.3" y1="610.8" x2="426.3" y2="625.5" stroke="#111" stroke-width="1.15"/>
<line x1="424.1" y1="611.0999999999999" x2="428.5" y2="611.0999999999999" stroke="#111" stroke-width="1.4"/>
<rect x="418.20" y="626.00" width="16.60" height="9.50" fill="#fff" stroke="#000" stroke-width="1"/>
<line x1="444" y1="627.9" x2="444" y2="630.7" stroke="#111" stroke-width="1.15"/>
<line x1="441.8" y1="628.1999999999999" x2="446.2" y2="628.1999999999999" stroke="#111" stroke-width="1.4"/>
<rect x="435.80" y="631.20" width="16.30" height="4.30" fill="#858585" stroke="#000" stroke-width="1"/>
<polyline points="319.2,594.9 319.2,589.9 367,589.9 367,594.9" fill="none" stroke="#000" stroke-width="1.6"/>
<text x="320.73199999999997" y="584.1" font-size="12.051" textLength="43.870000000000005" lengthAdjust="spacingAndGlyphs" stroke="#000" stroke-width="0.49">p &lt; 0.01</text>
<polyline points="320.3,616.4 320.3,611.4 347.5,611.4 347.5,616.4" fill="none" stroke="#000" stroke-width="1.6"/>
<text x="310.93199999999996" y="606.6" font-size="12.051" textLength="43.870000000000005" lengthAdjust="spacingAndGlyphs" stroke="#000" stroke-width="0.49">p &lt; 0.01</text>
<polyline points="399.2,526.5 399.2,521.5 447,521.5 447,526.5" fill="none" stroke="#000" stroke-width="1.6"/>
<text x="401.032" y="517.2" font-size="12.051" textLength="43.97" lengthAdjust="spacingAndGlyphs" stroke="#000" stroke-width="0.49">p &lt; 0.01</text>
<polyline points="400.1,545.0 400.1,540.0 427.2,540.0 427.2,545.0" fill="none" stroke="#000" stroke-width="1.6"/>
<text x="390.23199999999997" y="536.6" font-size="12.051" textLength="43.370000000000005" lengthAdjust="spacingAndGlyphs" stroke="#000" stroke-width="0.49">p &lt; 0.01</text>
<text x="323.1" y="649.4" font-size="12" textLength="32.0" lengthAdjust="spacingAndGlyphs" stroke="#000" stroke-width="0.55">PKCδ</text>
<text x="355.5" y="646.2" font-size="7.3" font-weight="bold" letter-spacing="0.35" stroke="#000" stroke-width="0.3">+/+</text>
<text x="404.2" y="651.0" font-size="12" textLength="31.0" lengthAdjust="spacingAndGlyphs" stroke="#000" stroke-width="0.55">PKCδ</text>
<text x="435.6" y="647.8" font-size="7.3" font-weight="bold" letter-spacing="0.35" stroke="#000" stroke-width="0.3">-/-</text>
</g>
</svg>
</body></html>
